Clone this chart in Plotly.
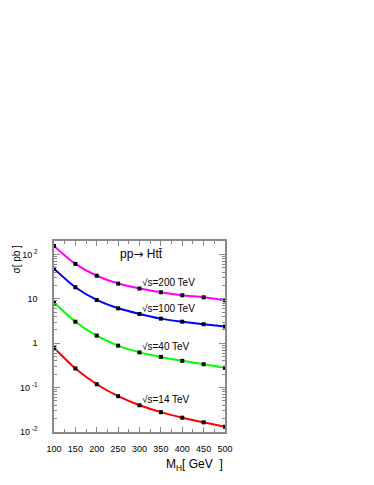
import plotly.graph_objects as go

# Higgs mass points (GeV)
mh = [100, 150, 200, 250, 300, 350, 400, 450, 500]

# cross sections sigma(pp -> H t tbar) in pb
xs_200 = [155, 61, 33, 22, 17, 14, 12, 10.8, 9.25]
xs_100 = [47.6, 18.2, 9.4, 6.1, 4.55, 3.57, 3.05, 2.67, 2.36]
xs_40 = [8.2, 3.05, 1.48, 0.88, 0.62, 0.49, 0.40, 0.335, 0.28]
xs_14 = [0.79, 0.27, 0.119, 0.064, 0.040, 0.028, 0.021, 0.0165, 0.0132]

curves = [
    ("√s=200 TeV", xs_200, "#ff00ff", 1.363),
    ("√s=100 TeV", xs_100, "#0000ff", 0.77),
    ("√s=40 TeV", xs_40, "#00ff00", -0.079),
    ("√s=14 TeV", xs_14, "#ff0000", -1.257),
]

ytick_vals = [0.01, 0.1, 1, 10, 100]
ytick_text = ["10<sup> -2</sup>", "10<sup> -1</sup>", "1", "10", "10<sup> 2</sup>"]
xtick_vals = [100, 150, 200, 250, 300, 350, 400, 450, 500]

font = "Liberation Sans, Arial, sans-serif"
frame = "#8a8a8a"

fig = go.Figure()
for name, ys, col, ylab in curves:
    fig.add_trace(go.Scatter(
        x=mh, y=ys, mode="lines+markers", name=name,
        line=dict(color=col, width=2, shape="spline", smoothing=0.8),
        marker=dict(symbol="square", size=4, color="black"),
        showlegend=False,
    ))
    fig.add_annotation(x=300, y=ylab, text=name, showarrow=False,
                       xanchor="left", yanchor="middle",
                       font=dict(size=10, color="black", family=font))

fig.add_annotation(x=250, y=2.0,
                   text="pp<span style='font-family:DejaVu Sans'>\u2192</span> Htt\u0304",
                   showarrow=False, xanchor="left", yanchor="middle",
                   font=dict(size=12, color="black", family=font))
fig.add_annotation(x=-0.22, y=0.905, xref="paper", yref="paper",
                   xanchor="center", yanchor="middle",
                   text="σ[ pb ]", textangle=-90, showarrow=False,
                   font=dict(size=10, color="black", family=font))
fig.add_annotation(x=1.0, y=-0.175, xref="paper", yref="paper",
                   xanchor="right", yanchor="middle",
                   text="M<sub>H</sub>[ GeV  ]", showarrow=False,
                   font=dict(size=12, color="black", family=font))

fig.update_xaxes(
    range=[100, 500], tickvals=xtick_vals, ticks="inside", ticklen=5,
    tickcolor=frame, showline=True, linecolor=frame, linewidth=1.5,
    mirror="ticks", showgrid=False, zeroline=False, ticklabelstandoff=7,
    tickfont=dict(size=9, color="black", family=font),
    minor=dict(dtick=25, ticks="inside", ticklen=3, tickcolor=frame),
)
fig.update_yaxes(
    type="log", range=[-2, 2.301], tickvals=ytick_vals, ticktext=ytick_text,
    ticks="inside", ticklen=6, tickcolor=frame, showline=True, linecolor=frame,
    linewidth=1.5, mirror="ticks", showgrid=False, zeroline=False,
    ticklabelstandoff=13,
    tickfont=dict(size=9, color="black", family=font),
    minor=dict(dtick="D1", ticks="inside", ticklen=3, tickcolor=frame),
)

# page body adds 8px margin all round, so the figure is shrunk to fit the window
fig.update_layout(
    width=358, height=469,
    margin=dict(l=44, r=141, t=233, b=45),
    plot_bgcolor="white", paper_bgcolor="white",
)

fig.write_html("out.html")
